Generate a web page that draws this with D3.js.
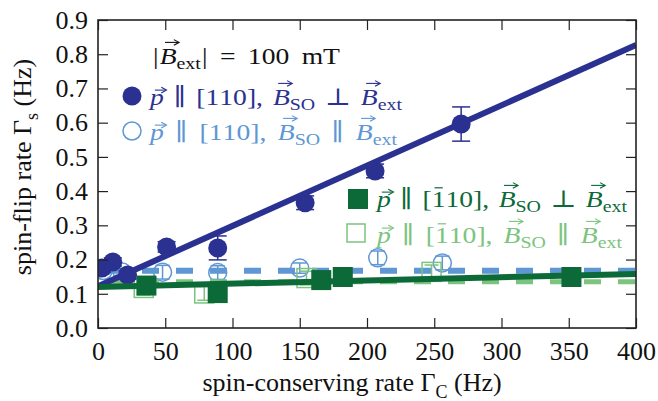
<!DOCTYPE html>
<html><head><meta charset="utf-8">
<script src="https://cdn.jsdelivr.net/npm/d3@7"></script>
<style>
html,body{margin:0;padding:0;background:#fff;}
svg text{font-family:"Liberation Serif","DejaVu Serif","Times New Roman",serif;}
</style></head>
<body><svg id="c" width="658" height="401"></svg>
<script>
// ---- data ----
const xTicks = [0,50,100,150,200,250,300,350,400];
const yTicks = [0.0,0.1,0.2,0.3,0.4,0.5,0.6,0.7,0.8,0.9];

// p || [110], B_SO ⊥ B_ext (filled dark blue circles)
const perpX   = [3, 11, 22, 51, 89, 154, 206, 270];
const perpY   = [0.175, 0.193, 0.155, 0.237, 0.234, 0.366, 0.459, 0.596];
const perpErr = [0.012, 0.012, 0.012, 0.015, 0.035, 0.02, 0.02, 0.05];

// p || [110], B_SO || B_ext (open light blue circles)
const parX   = [4, 18, 48, 89, 150, 208, 256];
const parY   = [0.168, 0.164, 0.163, 0.162, 0.175, 0.205, 0.19];
const parErr = [0.01, 0.01, 0.02, 0.02, 0.015, 0.02, 0.02];

// p || [-110], B_SO ⊥ B_ext (filled dark green squares)
const perp2X   = [36, 89, 166, 182, 352];
const perp2Y   = [0.124, 0.102, 0.140, 0.149, 0.149];

// p || [-110], B_SO || B_ext (open light green squares)
const par2X   = [34, 79, 155, 248];
const par2Y   = [0.117, 0.101, 0.146, 0.164];
const par2Err = [0.02, 0.02, 0.02, 0.02];

// fit lines (values at x = 0 and x = 400)
const fitX      = [0, 400];
const fitPerp   = [0.122, 0.827];
const fitPar    = [0.167, 0.167];
const fitPerp2  = [0.120, 0.158];
const fitPar2   = [0.135, 0.135];

const cDarkBlue = "#2b3190", cLightBlue = "#5e97d3", cDarkGreen = "#0c6a39", cLightGreen = "#7bc47e";

// ---- chart ----
const svg = d3.select("#c");
const x = d3.scaleLinear().domain([0,400]).range([98,636]);
const y = d3.scaleLinear().domain([0,0.9]).range([328,20]);

const plot = svg.append("g");
plot.append("defs").append("clipPath").attr("id","clip")
  .append("rect").attr("x",98).attr("y",20).attr("width",538).attr("height",308);

const g = plot.append("g").attr("clip-path","url(#clip)");
const line = d3.line().x(d=>x(d[0])).y(d=>y(d[1]));
const pts = vals => fitX.map((v,i)=>[v, vals[i]]);

function errbars(xs, ys, es, color, cap, w){
  xs.forEach((xv,i)=>{
    const e = es[i], cx = x(xv);
    g.append("line").attr("x1",cx).attr("x2",cx).attr("y1",y(ys[i]-e)).attr("y2",y(ys[i]+e))
      .attr("stroke",color).attr("stroke-width",w);
    [ys[i]-e, ys[i]+e].forEach(v=>{
      g.append("line").attr("x1",cx-cap/2).attr("x2",cx+cap/2).attr("y1",y(v)).attr("y2",y(v))
        .attr("stroke",color).attr("stroke-width",w);
    });
  });
}

// light blue open circles
errbars(parX, parY, parErr, cLightBlue, 14, 1.5);
g.selectAll(".oc").data(parX).enter().append("circle")
  .attr("cx",d=>x(d)).attr("cy",(d,i)=>y(parY[i])).attr("r",9)
  .attr("fill","none").attr("stroke",cLightBlue).attr("stroke-width",1.5);
// light blue dashed fit
g.append("path").attr("d",line(pts(fitPar))).attr("stroke",cLightBlue).attr("stroke-width",6)
  .attr("fill","none").attr("stroke-dasharray","17,17").attr("stroke-dashoffset",-10);

// light green open squares
errbars(par2X, par2Y, par2Err, cLightGreen, 14, 1.5);
g.selectAll(".os").data(par2X).enter().append("rect")
  .attr("x",d=>x(d)-9.5).attr("y",(d,i)=>y(par2Y[i])-9.5).attr("width",19).attr("height",19)
  .attr("fill","none").attr("stroke",cLightGreen).attr("stroke-width",1.5);
// light green dashed fit
g.append("path").attr("d",line(pts(fitPar2))).attr("stroke",cLightGreen).attr("stroke-width",5)
  .attr("fill","none").attr("stroke-dasharray","17,17").attr("stroke-dashoffset",-10);

// dark blue filled circles
errbars(perpX, perpY, perpErr, cDarkBlue, 18, 1.5);
g.selectAll(".fc").data(perpX).enter().append("circle")
  .attr("cx",d=>x(d)).attr("cy",(d,i)=>y(perpY[i])).attr("r",9.5)
  .attr("fill",cDarkBlue);
g.append("path").attr("d",line(pts(fitPerp))).attr("stroke",cDarkBlue).attr("stroke-width",6).attr("fill","none");

// dark green filled squares
g.selectAll(".fs").data(perp2X).enter().append("rect")
  .attr("x",d=>x(d)-10).attr("y",(d,i)=>y(perp2Y[i])-10).attr("width",20).attr("height",20)
  .attr("fill",cDarkGreen);
g.append("path").attr("d",line(pts(fitPerp2))).attr("stroke",cDarkGreen).attr("stroke-width",6).attr("fill","none");

// ---- axes ----
const axCol = "#222";
const fs = 26;
const axB = svg.append("g").attr("transform","translate(0,328)")
  .call(d3.axisBottom(x).tickValues(xTicks).tickSize(-10).tickPadding(14).tickFormat(d3.format("d")));
const axT = svg.append("g").attr("transform","translate(0,20)")
  .call(d3.axisTop(x).tickValues(xTicks).tickSize(-10).tickFormat(""));
const axL = svg.append("g").attr("transform","translate(98,0)")
  .call(d3.axisLeft(y).tickValues(yTicks).tickSize(-10).tickPadding(10).tickFormat(d3.format(".1f")));
const axR = svg.append("g").attr("transform","translate(636,0)")
  .call(d3.axisRight(y).tickValues(yTicks).tickSize(-10).tickFormat(""));
[axB,axT,axL,axR].forEach(a=>{
  a.attr("font-family",null);
  a.selectAll("line").attr("stroke",axCol).attr("stroke-width",1.2);
  a.selectAll("text").attr("fill","#111").style("font-size",fs+"px");
  a.select(".domain").remove();
});
svg.append("rect").attr("x",98).attr("y",20).attr("width",538).attr("height",308)
  .attr("fill","none").attr("stroke",axCol).attr("stroke-width",1.6);

// ---- rich text helper: lays out segments and stretches gaps to a target width ----
function rich(parent, x0, yb, segs, color, size, targetW, sx){
  const grp = parent.append("g")
    .attr("transform",`translate(${x0},0) scale(${sx},1) translate(${-x0},0)`);
  const tw = targetW/sx;
  const items = segs.map(s=>{
    const sz = s.sub ? size*0.72 : size;
    const t = grp.append("text").attr("y", yb + (s.sub? size*0.22 : 0))
      .attr("fill",color).style("font-size",sz+"px")
      .style("font-style", s.it ? "italic":"normal").text(s.t);
    return {s, t, w: t.node().getComputedTextLength()};
  });
  const nat = items.reduce((a,it)=>a+it.w+(it.s.sp||0),0);
  const nGap = items.filter(it=>it.s.gap).length;
  const extra = nGap ? Math.max(0,(tw-nat)/nGap) : 0;
  let cx = x0;
  items.forEach(({s,t,w})=>{
    t.attr("x",cx);
    if (s.vec){
      const off = s.it? size*0.1:0;
      const ax0 = cx + w*0.15 + off, ax1 = cx + w*0.95 + off;
      const ay = yb - size*(s.vecH||0.8);
      grp.append("line").attr("x1",ax0).attr("x2",ax1).attr("y1",ay).attr("y2",ay)
        .attr("stroke",color).attr("stroke-width",1.1);
      grp.append("path").attr("d",`M${ax1-4},${ay-2.8} L${ax1+0.5},${ay} L${ax1-4},${ay+2.8}`)
        .attr("stroke",color).attr("stroke-width",1.1).attr("fill","none");
    }
    if (s.bar){
      const by = yb - size*0.8;
      grp.append("line").attr("x1",cx+w*0.2).attr("x2",cx+w*0.8).attr("y1",by).attr("y2",by)
        .attr("stroke",color).attr("stroke-width",1.2);
    }
    cx += w + (s.sp||0) + (s.gap? extra:0);
  });
  return grp;
}

// axis titles
const xt = svg.append("text").attr("x",352).attr("y",391).attr("text-anchor","middle")
  .style("font-size","26px").attr("fill","#111");
xt.append("tspan").text("spin-conserving rate Γ");
xt.append("tspan").attr("dy",7).style("font-size","18px").text("C");
xt.append("tspan").attr("dy",-7).text(" (Hz)");

const yt = svg.append("text").attr("transform","translate(31,167) rotate(-90)").attr("text-anchor","middle")
  .style("font-size","26px").attr("fill","#111");
yt.append("tspan").text("spin-flip rate Γ");
yt.append("tspan").attr("dy",7).style("font-size","18px").text("s");
yt.append("tspan").attr("dy",-7).text(" (Hz)");

// ---- legend ----
const L = svg.append("g");
const LS = 24, SX = 1.15;
rich(L, 153, 64, [
  {t:"|",sp:1},{t:"B",it:true,vec:true,vecH:0.9},{t:"ext",sub:true,sp:1},{t:"|",gap:true},{t:"=",gap:true},{t:"100",gap:true},{t:"mT"}
], "#111", LS, 187, SX);

function legRow(bar, rel){
  return [
    {t:"p",it:true,vec:true,vecH:0.62,gap:true},{t:"∥",gap:true},
    {t:"["},{t:"1",bar:bar},{t:"10],",gap:true},
    {t:"B",it:true,vec:true,vecH:0.9},{t:"SO",sub:true,gap:true},{t:rel,gap:true},
    {t:"B",it:true,vec:true,vecH:0.9},{t:"ext",sub:true}
  ];
}
L.append("circle").attr("cx",132).attr("cy",96).attr("r",9.5).attr("fill",cDarkBlue);
rich(L, 150, 105, legRow(false, "⊥"), cDarkBlue, LS, 252, SX);
L.append("circle").attr("cx",132).attr("cy",131).attr("r",9).attr("fill","none").attr("stroke",cLightBlue).attr("stroke-width",1.5);
rich(L, 150, 140, legRow(false, "∥"), cLightBlue, LS, 247, SX);

L.append("rect").attr("x",348).attr("y",189).attr("width",20).attr("height",20).attr("fill",cDarkGreen);
rich(L, 377, 207, legRow(true, "⊥"), cDarkGreen, LS, 250, SX);
L.append("rect").attr("x",347).attr("y",224).attr("width",18).attr("height",18).attr("fill","none").attr("stroke",cLightGreen).attr("stroke-width",1.5);
rich(L, 377, 243, legRow(true, "∥"), cLightGreen, LS, 245, SX);
</script></body></html>
